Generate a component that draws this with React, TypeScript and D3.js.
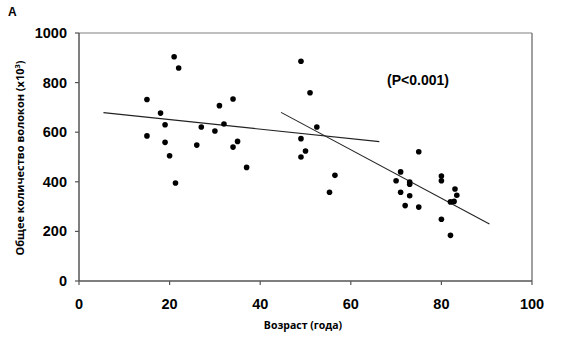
import React from "react";
import * as d3 from "d3";

const ages = [15, 15, 18, 19, 19, 20, 21, 21.3, 22, 26, 27, 30, 31, 32, 34, 34, 35, 37,
  49, 51, 52.5, 49, 50, 49, 56.5, 55.3,
  75, 71, 70, 73, 73, 71, 73, 72, 75, 80, 80, 83, 83.4, 82, 82.8, 80, 82];
const fibers = [732, 585, 677, 630, 559, 505, 904, 395, 859, 548, 621, 605, 707, 633, 734, 540, 563, 458,
  886, 759, 621, 574, 524, 500, 426, 358,
  521, 440, 404, 399, 390, 358, 344, 304, 298, 423, 404, 371, 346, 319, 321, 249, 184];
const fitYoung = [[5.4, 679], [66.3, 562]];
const fitOld = [[44.6, 680], [90.6, 230]];
const xTicks = [0, 20, 40, 60, 80, 100];
const yTicks = [0, 200, 400, 600, 800, 1000];
const xLabel = "Возраст (года)";
const yLabel = "Общее количество волокон (x10";
const pLabel = "(P<0.001)";
const panel = "A";

export default function App() {
  const W = 566, H = 340;
  const L = 79, R = 532, T = 33, B = 281;
  const x = d3.scaleLinear().domain([0, 100]).range([L, R]);
  const y = d3.scaleLinear().domain([0, 1000]).range([B, T]);
  const line = d3.line<number[]>().x(d => x(d[0])).y(d => y(d[1]));
  const font = "Liberation Sans, Arial, sans-serif";
  return (
    <svg width={W} height={H} style={{ position: "absolute", left: 0, top: 0, background: "#fff" }}
      fontFamily={font}>
      <rect x={0} y={0} width={W} height={H} fill="#fff" />
      {/* frame */}
      <line x1={L} x2={R} y1={T} y2={T} stroke="#808080" strokeWidth={1.2} />
      <line x1={R} x2={R} y1={T} y2={B} stroke="#808080" strokeWidth={1.5} />
      {/* axes */}
      <line x1={L} x2={L} y1={T} y2={B} stroke="#555" strokeWidth={1.5} />
      <line x1={L} x2={R} y1={B} y2={B} stroke="#555" strokeWidth={1.5} />
      {yTicks.map(t => (
        <g key={"y" + t}>
          <line x1={L - 4} x2={L} y1={y(t)} y2={y(t)} stroke="#555" strokeWidth={1.2} />
          <text x={67} y={y(t) + 5} textAnchor="end" fontSize={14.5} fontWeight="bold" fill="#000">{t}</text>
        </g>
      ))}
      {xTicks.map(t => (
        <g key={"x" + t}>
          <line x1={x(t)} x2={x(t)} y1={B} y2={B + 4} stroke="#555" strokeWidth={1.2} />
          <text x={x(t)} y={309} textAnchor="middle" fontSize={14.5} fontWeight="bold" fill="#000">{t}</text>
        </g>
      ))}
      <path d={line(fitYoung) || ""} fill="none" stroke="#222" strokeWidth={1.1} />
      <path d={line(fitOld) || ""} fill="none" stroke="#222" strokeWidth={1.1} />
      {ages.map((a, i) => (
        <circle key={i} cx={x(a)} cy={y(fibers[i])} r={2.8} fill="#000" />
      ))}
      <text x={418} y={85} textAnchor="middle" fontSize={14} fontWeight="bold" fill="#000">{pLabel}</text>
      <text x={8} y={16} fontSize={12} fontWeight="bold" fill="#000">{panel}</text>
      <text x={303} y={329} textAnchor="middle" fontSize={10.5} fontWeight="bold" fill="#000"
        fontFamily="Open Sans, sans-serif">{xLabel}</text>
      <text transform={`translate(24,158) rotate(-90)`} textAnchor="middle" fontSize={11}
        fontWeight="bold" fill="#000" fontFamily="Open Sans, sans-serif">
        {yLabel}<tspan dy={-4} fontSize={7.5}>3</tspan><tspan dy={4}>)</tspan>
      </text>
    </svg>
  );
}
